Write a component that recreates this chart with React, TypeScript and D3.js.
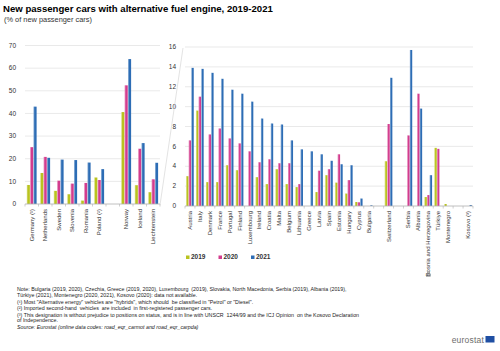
import * as d3 from "d3"

const FONT = "'Liberation Sans', Arial, sans-serif"

const SERIES = ["2019", "2020", "2021"]
const COLORS: Record<string, string> = {
  "2019": "#b9c31f",
  "2020": "#d33c8e",
  "2021": "#2d6db5",
}

// empty strings are spacer slots between groups
const leftCats = ["Germany (¹)", "Netherlands", "Sweden", "Slovenia", "Romania", "Poland (²)", "", "Norway", "Iceland", "Liechtenstein"]
const left2019 = [8.4, 13.7, 5.8, 4.3, 1.5, 11.7, null, 40.6, 8.3, 5.2]
const left2020 = [25.1, 20.8, 10.3, 9.0, 9.3, 10.6, null, 52.4, 24.4, 10.9]
const left2021 = [43.0, 20.4, 19.6, 19.4, 18.3, 15.4, null, 64.0, 26.9, 18.2]
const leftTicks = [0, 10, 20, 30, 40, 50, 60, 70]

const rightCats = [
  "Austria", "Italy", "Denmark", "France", "Portugal", "Finland", "Luxembourg", "Ireland", "Croatia", "Malta",
  "Belgium", "Lithuania", "Greece", "Latvia", "Spain", "Estonia", "Hungary", "Cyprus", "Bulgaria", "",
  "Switzerland", "", "Serbia", "Albania", "Bosnia and Herzegovina", "Türkiye", "Montenegro", "", "Kosovo (³)",
]
const right2019 = [3.0, 9.6, 2.4, 2.4, 4.1, 3.6, null, 2.9, 2.2, 3.7, 2.2, 1.9, null, 1.4, 3.1, 2.35, 1.25, 0.4, null, null, 4.5, null, null, null, 0.9, 5.85, 0.2, null, null]
const right2020 = [6.6, 11.0, 7.2, 7.8, 6.8, 6.3, 5.5, 4.4, 4.7, 4.3, 4.3, 2.2, null, 3.55, 3.7, 5.2, 2.6, 0.37, null, null, 8.25, null, 7.1, 11.3, 1.1, 5.75, null, null, null]
const right2021 = [13.9, 13.8, 13.4, 12.8, 11.7, 11.3, 10.5, 8.8, 8.3, 8.2, 6.6, 5.7, 5.5, 5.2, 4.55, 4.2, 4.1, 0.75, 0.07, null, 12.9, null, 15.7, 9.8, 3.1, null, null, null, 0.1]
const rightTicks = [0, 2, 4, 6, 8, 10, 12, 14, 16]

const notes = [
  "Note: Bulgaria (2019, 2020), Czechia, Greece (2019, 2020), Luxembourg  (2019), Slovakia, North Macedonia, Serbia (2019), Albania (2019),",
  "Türkiye (2021), Montenegro (2020, 2021), Kosovo (2020): data not available.",
  "(¹) Most \"Alternative energy\" vehicles are \"hybrids\", which should  be classified in \"Petrol\" or \"Diesel\".",
  "(²) Imported second-hand  vehicles  are included  in first-registered passenger cars.",
  "(³) This designation is without prejudice to positions on status, and is in line with UNSCR  1244/99 and the ICJ Opinion  on the Kosovo Declaration",
  "of Independence.",
]
const source = "Source: Eurostat (online data codes: road_eqr_carmot and road_eqr_carpda)"

type PanelProps = {
  cats: string[]
  values: (number | null)[][]
  ticks: number[]
  x0: number
  x1: number
  y0: number
  y1: number
  barPad: number
}

function Panel({ cats, values, ticks, x0, x1, y0, y1, barPad }: PanelProps) {
  const keys = cats.map((c, i) => `${i}`)
  const x = d3.scaleBand().domain(keys).range([x0, x1]).paddingInner(0).paddingOuter(0)
  const y = d3.scaleLinear().domain([0, ticks[ticks.length - 1]]).range([y0, y1])
  const groupW = x.bandwidth() * barPad
  const inner = d3.scaleBand().domain(SERIES).range([0, groupW]).paddingInner(0.12)
  const off = (x.bandwidth() - groupW) / 2

  return (
    <g>
      {ticks.map((t) => (
        <g key={t}>
          {t > 0 && <line x1={x0} x2={x1} y1={y(t)} y2={y(t)} stroke="#e3e3e3" strokeWidth={0.8} />}
          <text x={x0 - 9} y={y(t) + 2.2} fontSize={6.5} textAnchor="end" fill="#333">{t}</text>
        </g>
      ))}
      {keys.map((k, i) =>
        SERIES.map((s, si) => {
          const v = values[si][i]
          if (v == null) return null
          const bx = (x(k) ?? 0) + off + (inner(s) ?? 0)
          return (
            <g key={k + s}>
              <rect x={bx} y={y(v)} width={inner.bandwidth()} height={y0 - y(v)} fill={COLORS[s]} />
              <rect x={bx} y={y(v)} width={0.6} height={y0 - y(v)} fill="#fff" opacity={0.45} />
            </g>
          )
        })
      )}
      <line x1={x0} x2={x1} y1={y0} y2={y0} stroke="#b0b0b0" strokeWidth={0.8} />
      {d3.range(cats.length + 1).map((i) => {
        const tx = x0 + i * x.step()
        return <line key={i} x1={tx} x2={tx} y1={y0} y2={y0 + 2.5} stroke="#b0b0b0" strokeWidth={0.6} />
      })}
      {cats.map((c, i) => {
        if (!c) return null
        const cx = (x(keys[i]) ?? 0) + x.bandwidth() / 2 + 2
        return (
          <text key={i} transform={`translate(${cx},${y0 + 5}) rotate(-90)`} fontSize={6} textAnchor="end" fill="#333">
            {c}
          </text>
        )
      })}
    </g>
  )
}

export default function App() {
  return (
    <svg width={500} height={351} style={{ position: "absolute", left: 0, top: 0, background: "#fff" }} fontFamily={FONT}>
      <text x={3} y={12} fontSize={9.6} fontWeight="bold" fill="#000">
        New passenger cars with alternative fuel engine, 2019-2021
      </text>
      <text x={4} y={22} fontSize={7.4} fill="#333">(% of new passenger cars)</text>

      <Panel cats={leftCats} values={[left2019, left2020, left2021]} ticks={leftTicks} x0={25} x1={160} y0={204} y1={45.5} barPad={0.72} />
      <Panel cats={rightCats} values={[right2019, right2020, right2021]} ticks={rightTicks} x0={185} x1={473} y0={206} y1={47} barPad={0.76} />

      <line x1={160} y1={205} x2={183} y2={48} stroke="#d0d0d0" strokeWidth={0.6} />

      {SERIES.map((s, i) => (
        <g key={s} transform={`translate(${186 + i * 32.5},255.5)`}>
          <rect x={0} y={0} width={3.5} height={3.5} fill={COLORS[s]} />
          <text x={5} y={3.7} fontSize={6.5} fontWeight="bold" fill="#333">{s}</text>
        </g>
      ))}

      {/* small print icon */}
      <g transform="translate(426,272)" fill="none" stroke="#888" strokeWidth={0.6}>
        <rect x={0.5} y={2} width={4} height={2.5} />
        <rect x={1.3} y={0} width={2.4} height={2} />
      </g>

      {notes.map((n, i) => (
        <text key={i} x={17} y={290.5 + i * 6.5 - (i === 5 ? 1 : 0)} fontSize={5.3} fill="#222" style={{ whiteSpace: "pre" }}>
          {n}
        </text>
      ))}
      <text x={17} y={329} fontSize={5.3} fontStyle="italic" fill="#222">{source}</text>

      <text x={484} y={343} fontSize={8.5} textAnchor="end" fill="#6d6d6d" letterSpacing={0.2}>eurostat</text>
      <rect x={485.5} y={336} width={9} height={6.5} fill="#1f4fa3" />
    </svg>
  )
}
